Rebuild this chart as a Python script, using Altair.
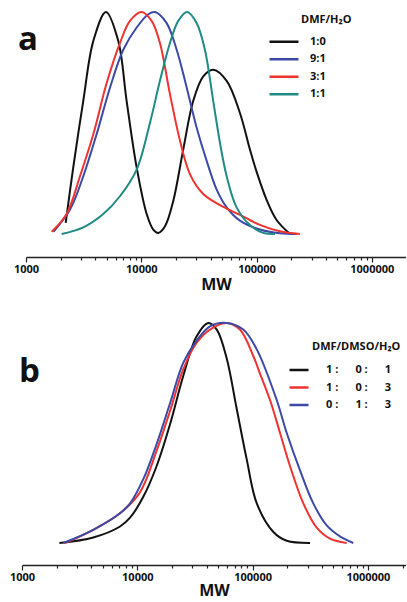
import altair as alt
import pandas as pd

# ---------------- panel a : DMF/H2O ----------------
A_ORDER = ["1:0", "9:1", "3:1", "1:1"]
A_COLORS = ["#111111", "#3b4aa6", "#ee3430", "#208a84"]

BLACK_A_MW = [2210, 2570, 3140, 3840, 4940, 6310, 7460, 9120, 11140, 12700, 14030,
              16070, 18970, 23120, 28250, 34510, 42070, 55080, 71780, 87700,
              100200, 122500, 149300, 195000]
BLACK_A_Y = [0.05, 0.30, 0.60, 0.87, 1.0, 0.87, 0.60, 0.30, 0.09, 0.02, 0.005,
             0.035, 0.15, 0.38, 0.60, 0.71, 0.74, 0.69, 0.545, 0.38,
             0.28, 0.153, 0.063, 0.0]

BLUE_A_MW = [1730, 2410, 3140, 4100, 5360, 6980, 9120, 11510, 13150, 16600, 20280,
             24770, 30200, 36900, 45080, 55080, 71780, 106900, 159600, 222800]
BLUE_A_Y = [0.01, 0.11, 0.26, 0.45, 0.66, 0.83, 0.93, 0.99, 1.0, 0.95, 0.83,
            0.66, 0.48, 0.33, 0.20, 0.12, 0.06, 0.02, 0.003, 0.0]

RED_A_MW = [1670, 2250, 2940, 3840, 5010, 6530, 7980, 10070, 12300, 14520, 17740,
            21680, 26420, 34510, 48190, 71780, 87700, 106900, 159600, 237700]
RED_A_Y = [0.01, 0.09, 0.26, 0.45, 0.68, 0.86, 0.96, 1.0, 0.96, 0.86, 0.63,
           0.42, 0.27, 0.18, 0.13, 0.086, 0.063, 0.041, 0.012, 0.0]

TEAL_A_MW = [2040, 3140, 4680, 6530, 9120, 11890, 14520, 17740, 20940, 25060,
             30200, 35650, 42070, 48190, 55080, 67140, 87700, 114300, 144500]
TEAL_A_Y = [0.0, 0.03, 0.09, 0.17, 0.29, 0.50, 0.69, 0.86, 0.96, 1.0,
            0.95, 0.83, 0.60, 0.41, 0.26, 0.12, 0.04, 0.005, 0.0]

# ---------------- panel b : DMF/DMSO/H2O ----------------
NB = "\u00a0"
B_ORDER = [f"1 :{NB*6}0 :{NB*6}1", f"1 :{NB*6}0 :{NB*6}3", f"0 :{NB*6}1 :{NB*6}3"]
B_COLORS = ["#111111", "#ee3430", "#3b4aa6"]

BLACK_B_MW = [2110, 4150, 7080, 8650, 11270, 14720, 19230, 25060, 32730, 41300,
              48870, 59570, 72780, 88920, 108700, 151400, 197700, 314800]
BLACK_B_Y = [0.0, 0.025, 0.075, 0.115, 0.21, 0.35, 0.54, 0.76, 0.94, 1.0,
             0.97, 0.84, 0.61, 0.38, 0.18, 0.05, 0.01, 0.0]

RED_B_MW = [2360, 4150, 7080, 10540, 14720, 19230, 25060, 32730, 42660, 59570,
            77620, 101400, 115900, 141600, 173000, 210900, 275400, 359700,
            468800, 654600]
RED_B_Y = [0.0, 0.06, 0.135, 0.23, 0.42, 0.60, 0.79, 0.91, 0.97, 1.0,
           0.97, 0.85, 0.77, 0.65, 0.50, 0.35, 0.18, 0.07, 0.02, 0.0]

BLUE_B_MW = [2280, 4150, 7080, 8650, 11270, 14720, 19230, 25060, 32730, 42660,
             59570, 83000, 108700, 161800, 197700, 257800, 335900, 439500,
             572800, 747000]
BLUE_B_Y = [0.0, 0.06, 0.135, 0.18, 0.29, 0.45, 0.635, 0.82, 0.92, 0.985,
            1.0, 0.97, 0.88, 0.65, 0.50, 0.33, 0.18, 0.08, 0.03, 0.0]

MAJOR_TICKS = [1000, 10000, 100000, 1000000]
MINOR_TICKS = [k * 10 ** d for d in range(3, 6) for k in range(2, 10)]

FONT = "Open Sans"
INK = "#111111"
IS_MAJOR = "abs(log(datum.value)/LN10 - round(log(datum.value)/LN10)) < 0.001"

# one shared canvas: panel a sits in the top part, panel b in the bottom part
W, H = 384, 565
A_AXIS_Y = 257


def table(series):
    rows = []
    for name, mws, ys in series:
        for m, v in zip(mws, ys):
            rows.append({"series": name, "MW": m, "value": v})
    return pd.DataFrame(rows)


def x_axis(extra_ticks, offset, title_pad):
    return alt.Axis(
        orient="bottom", offset=offset,
        values=MAJOR_TICKS + MINOR_TICKS + extra_ticks,
        labelExpr=f"{IS_MAJOR} ? format(datum.value, 'd') : ''",
        tickSize={"condition": {"test": IS_MAJOR, "value": 5}, "value": 3},
        labelFlush=False, labelOverlap=False, grid=False,
        domainColor="#222222", domainWidth=1.5,
        tickColor="#222222", tickWidth=1.2,
        labelFont=FONT, labelFontWeight="bold", labelFontSize=11,
        labelColor=INK, labelPadding=1,
        title="MW", titleFont=FONT, titleFontSize=16, titleFontWeight="bold",
        titleColor=INK, titlePadding=title_pad,
    )


def curves(df, order, colors, x_domain, x_range, y_domain, extra_ticks,
           offset, title_pad, legend_x, legend_y, sym_len, label_off):
    return alt.Chart(df).mark_line(interpolate="catmull-rom", strokeWidth=2).encode(
        x=alt.X("MW:Q",
                scale=alt.Scale(type="log", domain=x_domain, range=x_range, nice=False),
                axis=x_axis(extra_ticks, offset, title_pad)),
        y=alt.Y("value:Q", scale=alt.Scale(domain=y_domain, nice=False, zero=False),
                axis=None),
        color=alt.Color(
            "series:N",
            scale=alt.Scale(domain=order, range=colors),
            sort=order,
            legend=alt.Legend(
                orient="none", legendX=legend_x, legendY=legend_y, title=None,
                symbolType="stroke", symbolSize=sym_len ** 2,
                symbolStrokeWidth=2.5, clipHeight=14, rowPadding=3.5,
                padding=0, labelOffset=label_off, labelFont=FONT,
                labelFontSize=11, labelFontWeight="bold", labelColor=INK,
            ),
        ),
    )


def label(text, size, x, y):
    return alt.Chart(pd.DataFrame({"t": [text]})).mark_text(
        font=FONT, fontSize=size, fontWeight="bold", align="left",
        baseline="alphabetic", color=INK,
    ).encode(text="t:N", x=alt.value(x), y=alt.value(y))


df_a = table([
    ("1:0", BLACK_A_MW, BLACK_A_Y),
    ("9:1", BLUE_A_MW, BLUE_A_Y),
    ("3:1", RED_A_MW, RED_A_Y),
    ("1:1", TEAL_A_MW, TEAL_A_Y),
])
df_b = table([
    (B_ORDER[0], BLACK_B_MW, BLACK_B_Y),
    (B_ORDER[1], RED_B_MW, RED_B_Y),
    (B_ORDER[2], BLUE_B_MW, BLUE_B_Y),
])

curves_a = curves(df_a, A_ORDER, A_COLORS, [1000, 1980000], [4, W],
                  [-1.491, 1.054], [], A_AXIS_Y - H, 2, 246, 34.7, 29, 10)
curves_b = curves(df_b, B_ORDER, B_COLORS, [1000, 2140000], [0, W],
                  [-0.1, 2.468], [2000000], 0, 0, 266, 363, 19, 16)

chart = (
    alt.layer(
        curves_a, curves_b,
        label("a", 33, -4, 50),
        label("DMF/H\u2082O", 11, 279, 23),
        label("b", 33, -3, 382),
        label("DMF/DMSO/H\u2082O", 11, 290, 350),
    )
    .resolve_scale(x="independent", y="independent", color="independent")
    .resolve_axis(x="independent")
    .properties(width=W, height=H,
                padding={"left": 9, "right": 0, "top": 0, "bottom": 2},
                background="white")
    .configure_view(stroke=None)
)

chart.save("out.html", embed_options={"renderer": "svg", "actions": False})
